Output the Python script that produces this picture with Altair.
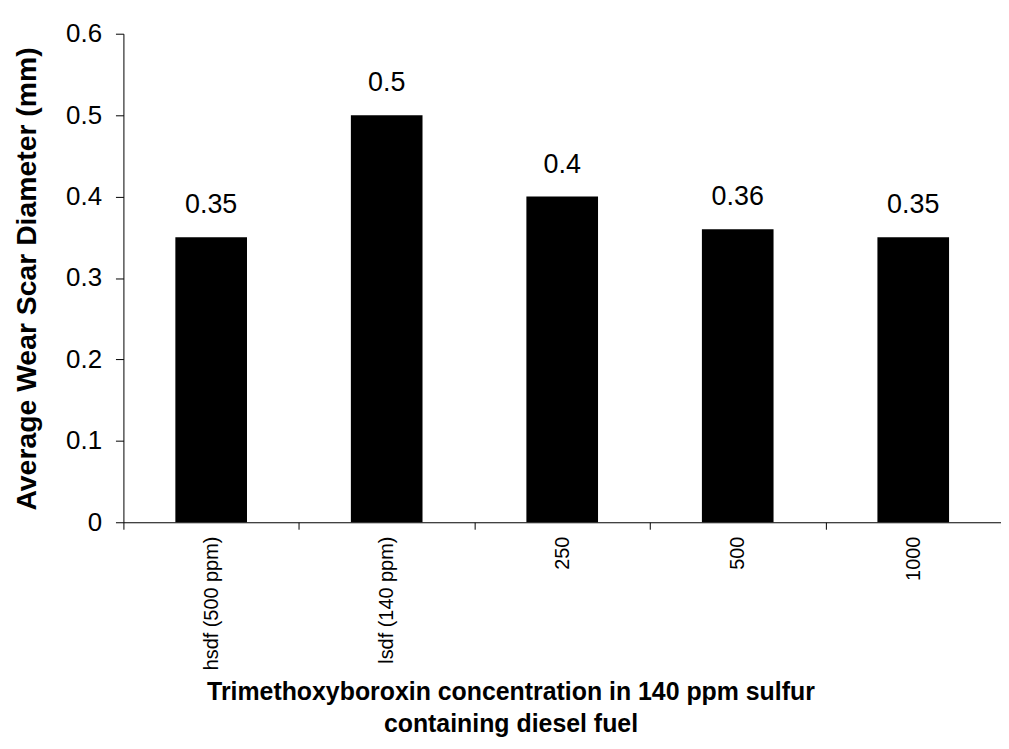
import altair as alt
import pandas as pd

categories = ["hsdf (500 ppm)", "lsdf (140 ppm)", "250", "500", "1000"]
values = [0.35, 0.5, 0.4, 0.36, 0.35]
value_labels = ["0.35", "0.5", "0.4", "0.36", "0.35"]
y_ticks = [0, 0.1, 0.2, 0.3, 0.4, 0.5, 0.6]

df = pd.DataFrame({"cat": categories, "val": values, "lab": value_labels})

FONT = "Liberation Sans"

x = alt.X(
    "cat:N",
    sort=categories,
    scale=alt.Scale(paddingInner=0, paddingOuter=0),
    axis=alt.Axis(
        title=["Trimethoxyboroxin concentration in 140 ppm sulfur", "containing diesel fuel"],
        labelAngle=-90, labelFontSize=20, labelFont=FONT, labelColor="#000",
        labelPadding=7, tickBand="extent", tickSize=7, tickColor="#000",
        domainColor="#000", titleFont=FONT, titleFontSize=25, titleFontWeight="bold",
        titleColor="#000", titleX=389, titleY=178, titleAlign="center",
        titleBaseline="alphabetic", titleLineHeight=32,
    ),
)

y = alt.Y(
    "val:Q",
    scale=alt.Scale(domain=[0, 0.6], nice=False),
    axis=alt.Axis(
        title="Average Wear Scar Diameter (mm)", values=y_ticks, format="~g", grid=False,
        labelFontSize=26, labelFont=FONT, labelColor="#000", labelPadding=14,
        tickSize=8, tickColor="#000", domainColor="#000",
        titleFont=FONT, titleFontSize=28.5, titleFontWeight="bold", titleColor="#000",
        titleX=-97, titleY=246, titleAngle=270, titleAlign="center", titleBaseline="middle",
    ),
)

bars = alt.Chart(df).mark_bar(color="#000", size=72).encode(x=x, y=y)
texts = alt.Chart(df).mark_text(
    dy=-24, fontSize=27, font=FONT, color="#000", baseline="alphabetic"
).encode(x=alt.X("cat:N", sort=categories), y="val:Q", text="lab:N")

chart = (
    alt.layer(bars, texts)
    .properties(
        width=882, height=491,
        autosize=alt.AutoSizeParams(type="none"),
        padding={"left": 116, "top": 24, "right": 0, "bottom": 218},
    )
    .configure_view(strokeWidth=0)
)

chart.save("out.html", embed_options={"renderer": "svg", "actions": False})
